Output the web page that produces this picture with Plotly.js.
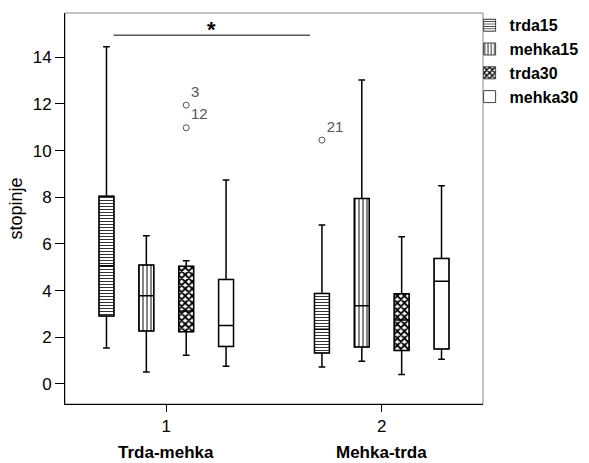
<!DOCTYPE html>
<html>
<head>
<meta charset="utf-8">
<script src="https://cdn.plot.ly/plotly-3.0.1.min.js"></script>
<style>html,body{margin:0;padding:0;background:#fff;}#chart{width:589px;height:463px;}</style>
</head>
<body>
<div id="chart"></div>
<script>
// ---- data ----
const categories = ['1', '2'];
const groupNames = ['Trda-mehka', 'Mehka-trda'];
const seriesNames = ['trda15', 'mehka15', 'trda30', 'mehka30'];

const lowerWhisker = {
  trda15: [1.54, 0.73], mehka15: [0.51, 0.97], trda30: [1.23, 0.40], mehka30: [0.76, 1.06]
};
const q1Values = {
  trda15: [2.91, 1.33], mehka15: [2.27, 1.58], trda30: [2.24, 1.43], mehka30: [1.61, 1.50]
};
const medianValues = {
  trda15: [5.07, 2.34], mehka15: [3.78, 3.35], trda30: [3.13, 2.74], mehka30: [2.50, 4.40]
};
const q3Values = {
  trda15: [8.05, 3.88], mehka15: [5.10, 7.95], trda30: [5.04, 3.87], mehka30: [4.48, 5.38]
};
const upperWhisker = {
  trda15: [14.45, 6.81], mehka15: [6.35, 13.03], trda30: [5.28, 6.31], mehka30: [8.74, 8.49]
};
// outliers: category, value, case label
const outlierCats = { trda15: ['2'], mehka15: [], trda30: ['1', '1'], mehka30: [] };
const outlierVals = { trda15: [10.45], mehka15: [], trda30: [11.95, 10.98], mehka30: [] };
const outlierLabels = { trda15: ['21'], mehka15: [], trda30: ['3', '12'], mehka30: [] };

const yTicks = [0, 2, 4, 6, 8, 10, 12, 14];
const sigLabel = '*';
const sigLevel = 14.95;

// ---- styling ----
const FONT = 'Liberation Sans, Arial, sans-serif';
const GAP = 0.26, GROUPGAP = 0.625;
const patterns = {
  trda15: {shape: '-', size: 3, solidity: 0.35, fgcolor: '#333', bgcolor: '#fff'},
  mehka15: {shape: '|', size: 4, solidity: 0.3, fgcolor: '#333', bgcolor: '#fff'},
  trda30: {shape: 'x', size: 5, solidity: 0.6, fgcolor: '#000', bgcolor: '#fff'},
  mehka30: {shape: '', fgcolor: '#000', bgcolor: '#fff'}
};

const traces = [];
seriesNames.forEach(s => {
  traces.push({
    type: 'bar', name: s, x: categories,
    base: q1Values[s],
    y: q3Values[s].map((v, i) => v - q1Values[s][i]),
    marker: {color: '#fff', line: {color: '#444', width: 1}, pattern: patterns[s]},
    offsetgroup: s, alignmentgroup: 'g', hoverinfo: 'skip', legendgroup: s
  });
});
seriesNames.forEach(s => {
  traces.push({
    type: 'box', name: s, x: categories,
    q1: q1Values[s], median: medianValues[s], q3: q3Values[s],
    lowerfence: lowerWhisker[s], upperfence: upperWhisker[s],
    fillcolor: 'rgba(0,0,0,0)', line: {color: '#000', width: 1.5},
    whiskerwidth: 0.45, boxpoints: false, showlegend: false,
    offsetgroup: s, alignmentgroup: 'g', legendgroup: s
  });
});
seriesNames.forEach(s => {
  traces.push({
    type: 'scatter', mode: 'markers+text', name: s,
    x: outlierCats[s], y: outlierVals[s], text: outlierLabels[s],
    textposition: 'top right', textfont: {family: FONT, size: 15, color: '#555'},
    marker: {symbol: 'circle-open', size: 6, color: '#555', line: {width: 1}},
    showlegend: false, offsetgroup: s, alignmentgroup: 'g', cliponaxis: false
  });
});

const layout = {
  width: 589, height: 463,
  margin: {l: 65, r: 106, t: 13, b: 59, autoexpand: false},
  paper_bgcolor: '#fff', plot_bgcolor: '#fff',
  font: {family: FONT, size: 17, color: '#000'},
  barmode: 'group', bargap: GAP, bargroupgap: GROUPGAP,
  boxmode: 'group', boxgap: GAP, boxgroupgap: GROUPGAP,
  scattermode: 'group', scattergap: GAP,
  showlegend: true,
  legend: {x: 0.968, xanchor: 'left', y: 1.012, yanchor: 'top', bgcolor: 'rgba(0,0,0,0)',
           font: {family: FONT, size: 16, color: '#000', weight: 'bold'}, itemwidth: 30,
           tracegroupgap: 0, traceorder: 'normal'},
  xaxis: {
    type: 'category', range: [-0.47, 1.47], showgrid: false, zeroline: false,
    showline: true, linecolor: '#000', linewidth: 1,
    ticks: 'outside', ticklen: 7, tickcolor: '#000', tickfont: {size: 17}
  },
  yaxis: {
    range: [-0.86, 15.9], tickvals: yTicks, showgrid: false, zeroline: false,
    showline: true, linecolor: '#000', linewidth: 1,
    ticks: 'outside', ticklen: 9, tickcolor: '#000', tickfont: {size: 17},
    title: {text: 'stopinje', font: {size: 18}, standoff: 5}
  },
  shapes: [
    {type: 'rect', xref: 'paper', yref: 'paper', x0: 0, x1: 1, y0: 0, y1: 1,
     line: {color: '#888', width: 1}, layer: 'below'},
    {type: 'line', xref: 'x', yref: 'y', x0: -0.245, x1: 0.667, y0: sigLevel, y1: sigLevel,
     line: {color: '#000', width: 1}}
  ],
  annotations: [
    {xref: 'x', yref: 'y', x: 0.21, y: sigLevel, text: '<b>' + sigLabel + '</b>', showarrow: false,
     yanchor: 'bottom', yshift: -9, font: {size: 22}},
    ...categories.map((c, i) => ({
      xref: 'x', yref: 'paper', x: i, y: -0.123, text: '<b>' + groupNames[i] + '</b>',
      showarrow: false, yanchor: 'middle', font: {size: 17}
    }))
  ]
};

Plotly.newPlot('chart', traces, layout, {displayModeBar: false, staticPlot: true});
</script>
</body>
</html>
